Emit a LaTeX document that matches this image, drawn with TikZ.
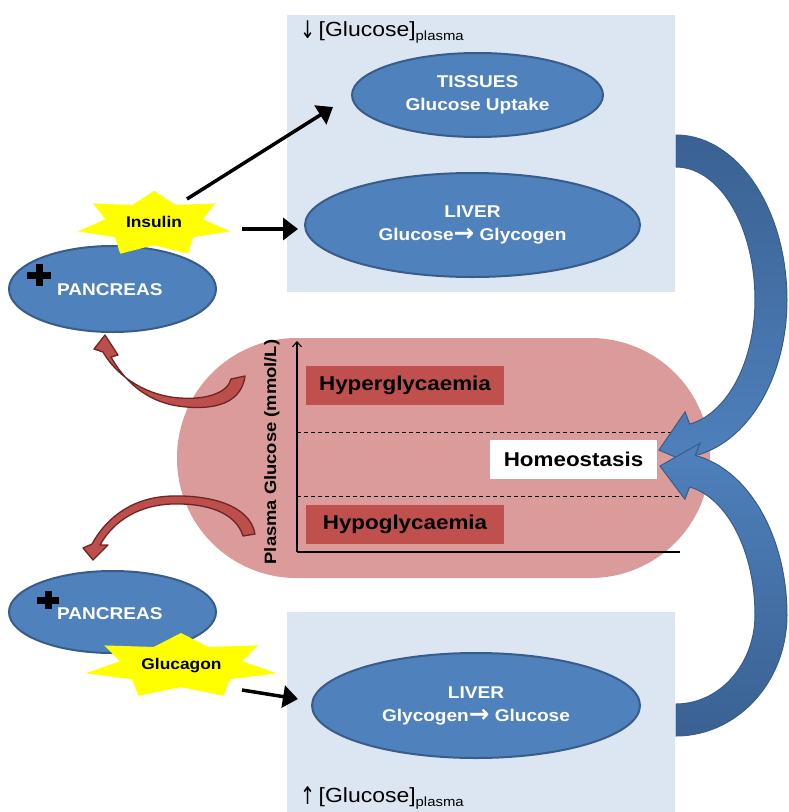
\documentclass[tikz,border=0pt]{standalone}
\usepackage{fontspec}
\setmainfont{Liberation Sans}[FakeStretch=1.12]
\newfontfamily\arrowfont{DejaVu Sans}
\usetikzlibrary{shapes.geometric,arrows.meta}
\definecolor{panel}{HTML}{DCE6F2}
\definecolor{organblue}{HTML}{4F81BD}
\definecolor{organline}{HTML}{385D8A}
\definecolor{flowdark}{HTML}{3A6192}
\definecolor{rangebg}{HTML}{DB9B9A}
\definecolor{zonered}{HTML}{C0504D}
\definecolor{redfill}{HTML}{BC4E4B}
\definecolor{redline}{HTML}{6E2523}
\definecolor{hormoneyellow}{HTML}{FFFF00}
% bold conversion arrow used inside the liver labels
\newcommand{\convarrow}{\raisebox{-1pt}{\scalebox{1.45}{\arrowfont\bfseries →}}}
% thin trend arrows in front of the concentration labels
\newcommand{\trendarrow}[1]{\raisebox{-2pt}{\scalebox{1}[1.35]{\arrowfont\fontsize{18}{20}\selectfont #1}}}

\begin{document}
\begin{tikzpicture}[x=1pt,y=-1pt,
  organ/.style={ellipse, fill=organblue, draw=organline, line width=2pt, text=white,
    font=\bfseries\fontsize{17}{23}\selectfont, align=center, inner sep=0pt},
  organname/.style={anchor=base west, text=white, inner sep=0pt,
    font=\bfseries\fontsize{17}{20}\selectfont},
  zonebox/.style={minimum width=198pt, minimum height=39pt, inner sep=0pt,
    font=\bfseries\fontsize{20}{24}\selectfont},
  hormone/.style={font=\bfseries\fontsize{15.5}{18}\selectfont, inner sep=0pt},
  signal/.style={line width=3.5pt, -{Triangle[length=15pt,width=22pt]}},
  feedback/.style={fill=redfill, draw=redline, line width=1.3pt, line join=round},
  flow/.style={draw=organline, line width=1pt, line join=miter},
  level/.style={dash pattern=on 4pt off 3pt, line width=0.9pt},
  glabel/.style={anchor=base west, inner sep=0pt, font=\fontsize{20.5}{24}\selectfont}
]
\useasboundingbox (0,0) rectangle (789,812);

% panels of the two glucose situations
\fill[panel] (287,15) rectangle (675,292);
\fill[panel] (287,612) rectangle (675,812);
\node[glabel] (lowlabel) at (300,36) {\trendarrow{↓}\,[Glucose]\raisebox{-4pt}{\fontsize{13.3}{15}\selectfont plasma}};
\node[glabel] (highlabel) at (300,802) {\trendarrow{↑}\,[Glucose]\raisebox{-4pt}{\fontsize{13.3}{15}\selectfont plasma}};

% plasma glucose chart
\fill[rangebg, rounded corners=119.5pt] (177,338) rectangle (710,578);
\coordinate (origin) at (297,552);
\coordinate (ytop) at (297,341);
\coordinate (xend) at (680,552);
\draw[line width=1.1pt, -{Straight Barb[length=5pt,width=9pt]}] (origin) -- (ytop);
\draw[line width=1.1pt] (origin) -- (xend);
\coordinate (upperA) at (297,432); \coordinate (upperB) at (680,432);
\coordinate (lowerA) at (297,496); \coordinate (lowerB) at (680,496);
\draw[level] (upperA) -- (upperB);
\draw[level] (lowerA) -- (lowerB);
\node[rotate=90, inner sep=0pt, font=\bfseries\fontsize{16.4}{19}\selectfont] (axislabel) at (272,452) {Plasma Glucose (mmol/L)};
\node[zonebox, fill=zonered] (hyper) at (405,385.5) {Hyperglycaemia};
\node[zonebox, fill=zonered] (hypo) at (405,524.5) {Hypoglycaemia};
\node[zonebox, fill=white, minimum width=167pt] (homeo) at (573.5,459.5) {Homeostasis};

% feedback arrows from the chart to the pancreas
\path[feedback] (231,379) -- (245,376) .. controls (241,408) and (205,410) .. (178,406)
  .. controls (145,401) and (124,380) .. (111,357) -- (118,355) -- (105,335) -- (94,349)
  -- (103,352) .. controls (118,378) and (148,396) .. (180,398)
  .. controls (208,400) and (228,392) .. cycle;
\path[feedback] (255,534) .. controls (250,505) and (210,495) .. (172,496)
  .. controls (135,497) and (108,515) .. (92,544) -- (83,548) -- (93,560) -- (108,545)
  -- (100,545) .. controls (114,520) and (140,505) .. (172,504)
  .. controls (208,503) and (236,513) .. (243,536) -- cycle;

% organs
\node[organ, minimum width=251pt, minimum height=84pt] (tissues) at (477.5,95) {TISSUES\\Glucose Uptake};
\node[organ, minimum width=335pt, minimum height=104pt] (liverup) at (472.5,225) {LIVER\\Glucose\convarrow\ Glycogen};
\node[organ, minimum width=328pt, minimum height=105pt] (liverdown) at (476,705.5) {LIVER\\Glycogen\convarrow\ Glucose};
\node[organ, minimum width=207pt, minimum height=86pt] (pancup) at (112.5,289) {};
\node[organ, minimum width=207pt, minimum height=82pt] (pancdown) at (112.5,612) {};
\node[organname] (pancupname) at (57,295) {PANCREAS};
\node[organname] (pancdownname) at (57,619) {PANCREAS};
% plus marks
\fill (27,271.5) rectangle (51,278.5);
\fill (35.5,264) rectangle (42.5,286);
\fill (37,597) rectangle (59,604);
\fill (44.5,591) rectangle (51.5,609);

% hormone stars
\fill[hormoneyellow] plot[samples at={0,...,13}]
  ({154+78*(1-0.36*mod(\x,2))*cos(-90+\x*360/14)}, {224+33*(1-0.36*mod(\x,2))*sin(-90+\x*360/14)}) -- cycle;
\fill[hormoneyellow] plot[samples at={0,...,13}]
  ({181+98*(1-0.36*mod(\x,2))*cos(-90+\x*360/14)}, {666+33*(1-0.36*mod(\x,2))*sin(-90+\x*360/14)}) -- cycle;
\node[hormone] (insulin) at (154,222) {Insulin};
\node[hormone] (glucagon) at (181.5,666) {Glucagon};

% hormone actions
\coordinate (insulinout) at (187,199);
\coordinate (tissuesin) at (333,107);
\coordinate (insulinright) at (242,229);
\coordinate (liverupin) at (298,229);
\coordinate (glucagonright) at (242,690);
\coordinate (liverdownin) at (298,699);
\draw[signal] (insulinout) -- (tissuesin);
\draw[signal] (insulinright) -- (liverupin);
\draw[signal] (glucagonright) -- (liverdownin);

% return to homeostasis
\path[flow, top color=flowdark, bottom color=organblue]
  plot[domain=-90:0, samples=30] ({676+111*cos(\x)},{300+165*sin(\x)})
  -- plot[domain=0:80, samples=30] ({676+111*cos(\x)},{300+158*sin(\x)})
  -- (699.9,467.8) -- (659,450) -- (685.1,411.8)
  -- plot[domain=80:0, samples=30] ({676+79*cos(\x)},{300+126*sin(\x)})
  -- plot[domain=0:-90, samples=30] ({676+79*cos(\x)},{300+133*sin(\x)}) -- cycle;
\path[flow, top color=organblue, bottom color=flowdark]
  plot[domain=90:0, samples=30] ({676+111*cos(\x)},{615+121*sin(\x)})
  -- plot[domain=0:-80, samples=30] ({676+111*cos(\x)},{615+162*sin(\x)})
  -- (700.1,443.2) -- (660,466) -- (684.9,499.2)
  -- plot[domain=-80:0, samples=30] ({676+79*cos(\x)},{615+130*sin(\x)})
  -- plot[domain=0:90, samples=30] ({676+79*cos(\x)},{615+89*sin(\x)}) -- cycle;
\end{tikzpicture}
\end{document}
